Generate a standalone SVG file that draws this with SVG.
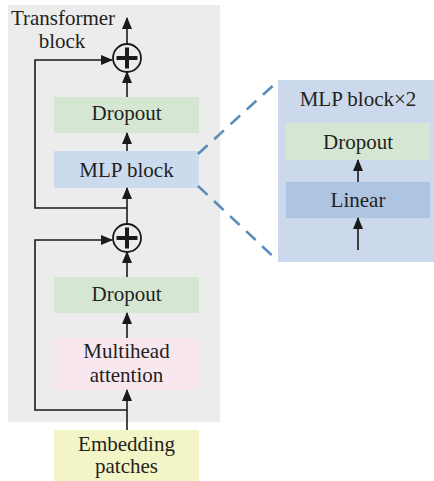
<svg xmlns="http://www.w3.org/2000/svg" width="434" height="481" viewBox="0 0 434 481">
<defs>
<marker id="ah" viewBox="0 0 12 10" refX="11" refY="5" markerWidth="12" markerHeight="10" markerUnits="userSpaceOnUse" orient="auto">
<path d="M0,0 L12,5 L0,10 Z" fill="#1a1a1a"/>
</marker>
</defs>
<style>
text{font-family:'Liberation Serif','Times New Roman',serif;font-size:21px;fill:#231f20;text-anchor:middle}
.ar{stroke:#1a1a1a;stroke-width:1.6;fill:none;marker-end:url(#ah)}
.dash{stroke:#5a8dbd;stroke-width:2.6;stroke-dasharray:13,9;fill:none}
.green{fill:#d5e7d3}
.blue{fill:#ccdaee}
</style>
<rect id="transformer-bg" x="8" y="5" width="212" height="417" fill="#ececec"/>
<g id="title"><text x="63" y="25">Transformer</text><text x="62" y="48">block</text></g>
<g id="mlp-panel">
<rect x="278" y="80" width="156" height="182" fill="#ccd9ec"/>
<text x="358" y="106">MLP block×2</text>
<g id="inner-dropout"><rect x="286" y="123" width="144" height="37" class="green"/><text x="358" y="149">Dropout</text></g>
<g id="inner-linear"><rect x="286" y="182" width="144" height="36" fill="#aec5e1"/><text x="358" y="207">Linear</text></g>
</g>
<g id="dropout1"><rect x="54" y="97" width="145" height="36" class="green"/><text x="126.5" y="120">Dropout</text></g>
<g id="mlp-block"><rect x="54" y="151" width="145" height="37" class="blue"/><text x="126.5" y="177">MLP block</text></g>
<g id="dropout2"><rect x="54" y="277" width="145" height="36" class="green"/><text x="126.5" y="301">Dropout</text></g>
<g id="multihead"><rect x="54" y="338" width="145" height="52" fill="#f9e7ef"/><text x="126.5" y="358">Multihead</text><text x="126.5" y="382">attention</text></g>
<g id="embedding"><rect x="54" y="430" width="145" height="51" fill="#f4f5c7"/><text x="126.5" y="451">Embedding</text><text x="126.5" y="473">patches</text></g>
<g id="add1"><circle cx="127" cy="58" r="14" fill="none" stroke="#1a1a1a" stroke-width="1.8"/><path d="M116.5,58 H137.5 M127,47.5 V68.5" stroke="#1a1a1a" stroke-width="4"/></g>
<g id="add2"><circle cx="127" cy="238" r="14" fill="none" stroke="#1a1a1a" stroke-width="1.8"/><path d="M116.5,238 H137.5 M127,227.5 V248.5" stroke="#1a1a1a" stroke-width="4"/></g>
<g id="connectors">
<line class="ar" x1="127" y1="44" x2="127" y2="18"/>
<line class="ar" x1="127" y1="97" x2="127" y2="72"/>
<line class="ar" x1="127" y1="151" x2="127" y2="133"/>
<line class="ar" x1="127" y1="224" x2="127" y2="188"/>
<polyline class="ar" points="127,208 35,208 35,60 112,60"/>
<line class="ar" x1="127" y1="277" x2="127" y2="252"/>
<line class="ar" x1="127" y1="338" x2="127" y2="313"/>
<line class="ar" x1="127" y1="430" x2="127" y2="390"/>
<polyline class="ar" points="127,410 35,410 35,240 112,240"/>
<line class="ar" x1="358" y1="182" x2="358" y2="160"/>
<line class="ar" x1="358" y1="250" x2="358" y2="218"/>
<line class="dash" x1="198" y1="154" x2="278" y2="81"/>
<line class="dash" x1="198" y1="186" x2="278" y2="261"/>
</g>
</svg>
